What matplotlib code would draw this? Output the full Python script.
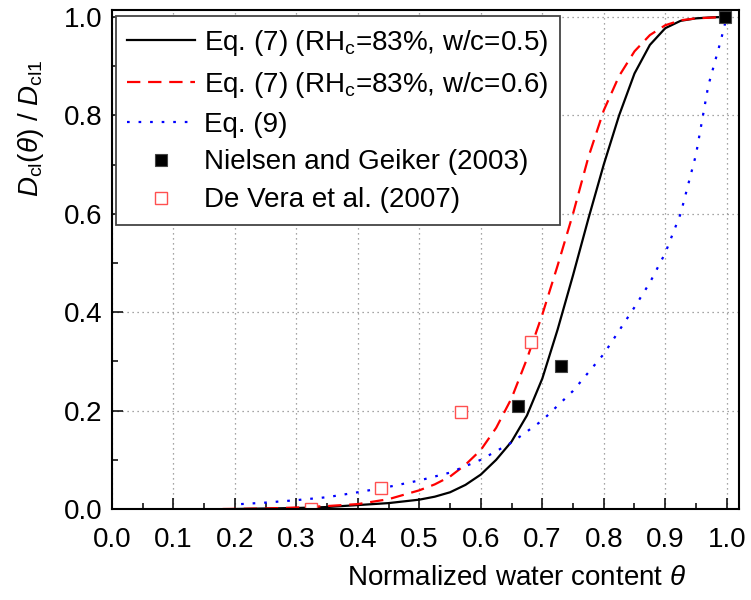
#recreate D_cl(theta)/D_cl1 vs normalized water content chart
import matplotlib
matplotlib.use("Agg")
import matplotlib.pyplot as plt
from matplotlib.ticker import MultipleLocator

plt.rcParams['font.family'] = ['Liberation Sans', 'DejaVu Sans']
plt.rcParams['mathtext.fontset'] = 'custom'
plt.rcParams['mathtext.rm'] = 'Liberation Sans'
plt.rcParams['mathtext.it'] = 'Liberation Sans:italic'
plt.rcParams['mathtext.bf'] = 'Liberation Sans:bold'

#Eq. (7), w/c=0.5
th_05 = [0.20, 0.30, 0.35, 0.40, 0.45, 0.50, 0.525, 0.55, 0.575, 0.60, 0.625, 0.65, 0.675,
         0.70, 0.725, 0.75, 0.775, 0.80, 0.825, 0.85, 0.875, 0.90, 0.925, 0.95, 0.975, 1.00]
d_05 = [0.0, 0.002, 0.004, 0.008, 0.012, 0.019, 0.025, 0.034, 0.049, 0.07, 0.10, 0.137,
        0.19, 0.265, 0.365, 0.475, 0.59, 0.70, 0.80, 0.885, 0.943, 0.977, 0.992, 0.997,
        0.999, 1.0]
#Eq. (7), w/c=0.6
th_06 = [0.18, 0.25, 0.30, 0.35, 0.40, 0.45, 0.50, 0.525, 0.55, 0.575, 0.60, 0.625, 0.65,
         0.675, 0.70, 0.725, 0.75, 0.775, 0.80, 0.825, 0.85, 0.875, 0.90, 0.925, 0.95, 1.00]
d_06 = [0.0, 0.001, 0.003, 0.006, 0.01, 0.02, 0.038, 0.05, 0.066, 0.09, 0.12, 0.165,
        0.225, 0.305, 0.395, 0.495, 0.60, 0.715, 0.81, 0.88, 0.93, 0.963, 0.983, 0.993,
        0.997, 1.0]
#Eq. (9)
th_9 = [0.21, 0.25, 0.30, 0.35, 0.40, 0.45, 0.50, 0.55, 0.60, 0.65, 0.70, 0.75, 0.80,
        0.85, 0.875, 0.90, 0.925, 0.95, 0.97, 0.99, 1.00]
d_9 = [0.01, 0.013, 0.018, 0.024, 0.034, 0.045, 0.058, 0.074, 0.10, 0.135, 0.18, 0.24,
       0.315, 0.41, 0.46, 0.52, 0.60, 0.72, 0.86, 0.95, 1.0]
#measurements
th_ng = [0.66, 0.73, 0.997]
d_ng = [0.21, 0.29, 1.0]
th_dv = [0.323, 0.437, 0.567, 0.682]
d_dv = [0.0, 0.042, 0.198, 0.34]

fs = 20

fig = plt.figure(figsize=(7.51, 6.0), dpi=100)
ax = fig.add_axes([112/751, 1-509/600, 627/751, 499.5/600])

ax.plot(th_05, d_05, 'k-', lw=1.6, label="Eq. (7) (RH$_{\\rm c}$=83%, w/c=0.5)")
ax.plot(th_06, d_06, '-', color='red', lw=1.6, dashes=(6, 3.5),
        label="Eq. (7) (RH$_{\\rm c}$=83%, w/c=0.6)")
ax.plot(th_9, d_9, '-', color='blue', lw=1.6, dashes=(1.2, 4), label="Eq. (9)")
ax.plot(th_ng, d_ng, 's', color='black', ms=8, mec='#444444', mew=0.8,
        label="Nielsen and Geiker (2003)")
ax.plot(th_dv, d_dv, 's', mfc='white', mec='#ff5050', ms=8, mew=1.0,
        label="De Vera et al. (2007)")

ax.set_xlim(0, 1.02)
ax.set_ylim(0, 1.015)
ax.xaxis.set_major_locator(MultipleLocator(0.1))
ax.xaxis.set_minor_locator(MultipleLocator(0.05))
ax.yaxis.set_major_locator(MultipleLocator(0.2))
ax.yaxis.set_minor_locator(MultipleLocator(0.1))
ax.tick_params(which='major', direction='in', length=8, width=1.1, labelsize=fs)
ax.tick_params(which='minor', direction='in', length=4.3, width=1.1)
ax.tick_params(axis='x', which='major', top=False, pad=13)
ax.tick_params(axis='y', which='major', right=False, pad=7)
ax.tick_params(which='minor', top=False, right=False)
for s in ax.spines.values():
    s.set_linewidth(1.5)
ax.grid(True, which='major', color='#888888', lw=0.9, linestyle=(0, (1, 3)))
ax.set_axisbelow(True)

ax.set_xlabel("Normalized water content $\\theta$", fontsize=fs)
ax.xaxis.set_label_coords(0.646, -0.112)
ax.set_ylabel("$D_{\\rm cl}(\\theta)$ / $D_{\\rm cl1}$", fontsize=fs)
ax.yaxis.set_label_coords(-0.105, 0.763)

leg = ax.legend(loc='upper left', bbox_to_anchor=(0.006, 0.987), borderaxespad=0,
                fontsize=fs, fancybox=False, framealpha=1, edgecolor='#444444',
                handlelength=2.45, handletextpad=0.3, labelspacing=0.43,
                borderpad=0.42)
leg.get_frame().set_linewidth(1.3)

fig.savefig("out.png", dpi=100)
